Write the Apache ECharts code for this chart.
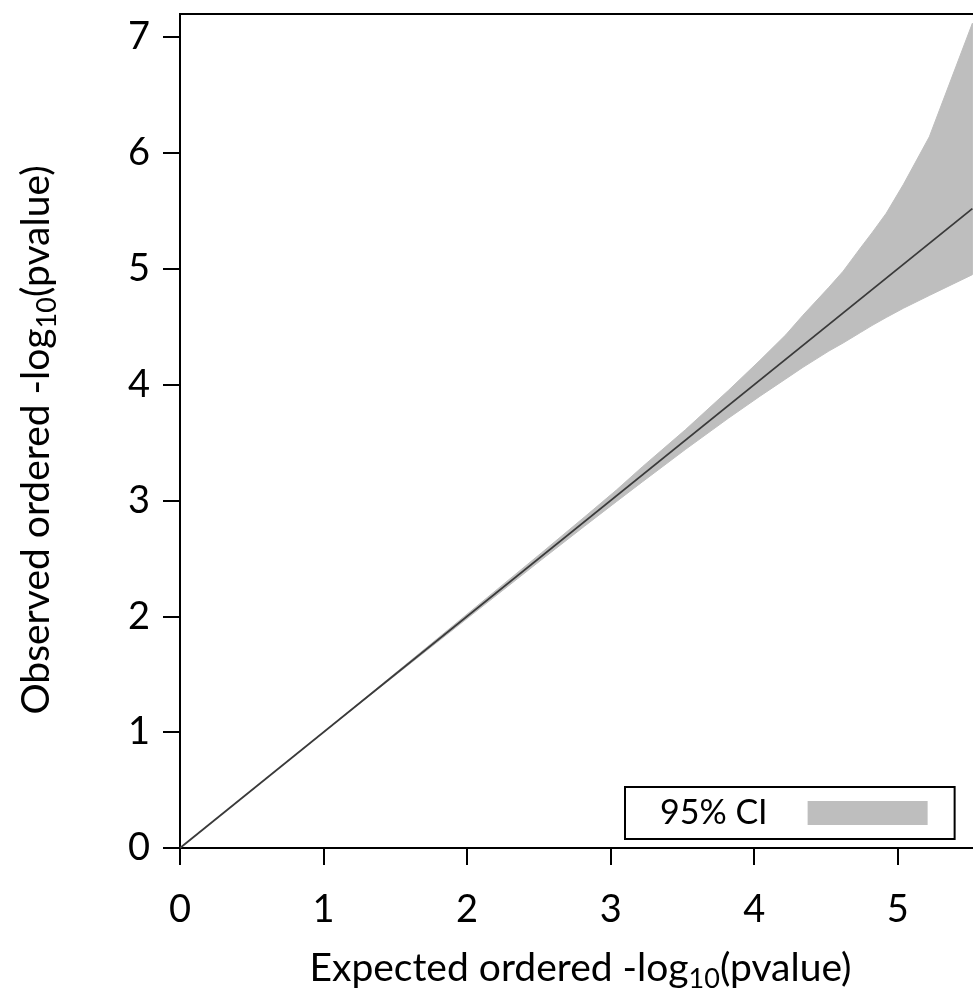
<!DOCTYPE html>
<html>
<head>
<meta charset="utf-8">
<script src="https://cdn.jsdelivr.net/npm/echarts@6/dist/echarts.min.js"></script>
<style>
html,body{margin:0;padding:0;background:#fff;overflow:hidden;}
#chart{width:973px;height:995px;}
</style>
</head>
<body>
<div id="chart"></div>
<script>
// Expected -log10(p) positions of the CI band and its bounds
const ciX     = [0.00, 1.00, 1.52, 2.04, 2.52, 2.82, 3.04, 3.22, 3.52, 3.82, 4.04, 4.22, 4.34, 4.52, 4.62, 4.74, 4.82, 4.92, 5.04, 5.22, 5.52];
const ciUpper = [0.00, 1.00, 1.53, 2.06, 2.55, 2.86, 3.09, 3.29, 3.61, 3.95, 4.21, 4.43, 4.60, 4.84, 4.98, 5.18, 5.31, 5.48, 5.73, 6.14, 7.12];
const ciLower = [0.00, 1.00, 1.51, 2.02, 2.49, 2.78, 2.99, 3.16, 3.44, 3.71, 3.90, 4.05, 4.15, 4.29, 4.36, 4.45, 4.51, 4.58, 4.66, 4.77, 4.95];
// Observed ordered -log10(p) line
const obsX = [0.00, 5.52];
const obsY = [0.00, 5.52];
// Axis ticks
const xTicks = [0, 1, 2, 3, 4, 5];
const yTicks = [0, 1, 2, 3, 4, 5, 6, 7];

const FONT = 'Lato';
const chart = echarts.init(document.getElementById('chart'));

const titleRich = {
  t: { fontFamily: FONT, fontSize: 39, color: '#000', lineHeight: 50, verticalAlign: 'middle' },
  s: { fontFamily: FONT, fontSize: 27, color: '#000', lineHeight: 20, verticalAlign: 'bottom' }
};

chart.setOption({
  animation: false,
  backgroundColor: '#fff',
  grid: {
    left: 180, top: 14, width: 801, height: 834,
    outerBoundsMode: 'none',
    containLabel: false,
    show: true, borderColor: '#000', borderWidth: 2, backgroundColor: 'transparent'
  },
  legend: {
    data: ['95% CI'],
    left: 625, top: 787,
    align: 'right',
    icon: 'rect',
    itemWidth: 120, itemHeight: 24,
    padding: [9, 27, 9, 35],
    borderColor: '#000', borderWidth: 2,
    backgroundColor: '#fff',
    textStyle: { fontFamily: FONT, fontSize: 34, color: '#000', padding: [0, 35, 0, 0] }
  },
  xAxis: {
    type: 'value', min: 0, max: 5.58,
    splitLine: { show: false },
    axisLine: { lineStyle: { color: '#000', width: 2 } },
    axisTick: { inside: false, length: 17, lineStyle: { color: '#000', width: 2 },
      customValues: xTicks },
    axisLabel: { fontFamily: FONT, fontSize: 38, color: '#000', margin: 43,
      customValues: xTicks },
    name: '{t|Expected ordered -log}{s|10}{t|(pvalue)}',
    nameLocation: 'middle', nameGap: 95,
    nameTextStyle: { rich: titleRich }
  },
  yAxis: {
    type: 'value', min: 0, max: 7.2,
    splitLine: { show: false },
    axisLine: { lineStyle: { color: '#000', width: 2 } },
    axisTick: { inside: false, length: 17, lineStyle: { color: '#000', width: 2 },
      customValues: yTicks },
    axisLabel: { fontFamily: FONT, fontSize: 38, color: '#000', margin: 30,
      customValues: yTicks },
    name: '{t|Observed ordered -log}{s|10}{t|(pvalue)}',
    nameLocation: 'middle', nameGap: 119, nameRotate: 90,
    nameTextStyle: { rich: titleRich, padding: [0, 18, 0, 0] }
  },
  series: [
    {
      name: '95% CI',
      type: 'custom',
      itemStyle: { color: '#bebebe' },
      clip: true,
      z: 1,
      data: [[ciX[0], ciLower[0]]],
      renderItem: function (params, api) {
        const pts = [];
        for (let i = 0; i < ciX.length; i++) pts.push(api.coord([ciX[i], ciUpper[i]]));
        for (let i = ciX.length - 1; i >= 0; i--) pts.push(api.coord([ciX[i], ciLower[i]]));
        return {
          type: 'polygon',
          shape: { points: pts, smooth: 0 },
          style: { fill: '#bebebe', stroke: '#bebebe', lineWidth: 1 }
        };
      }
    },
    {
      name: 'Observed',
      type: 'line',
      z: 3,
      symbol: 'none',
      lineStyle: { color: '#3a3a3a', width: 1.8 },
      data: obsX.map((x, i) => [x, obsY[i]])
    }
  ]
});
</script>
</body>
</html>
